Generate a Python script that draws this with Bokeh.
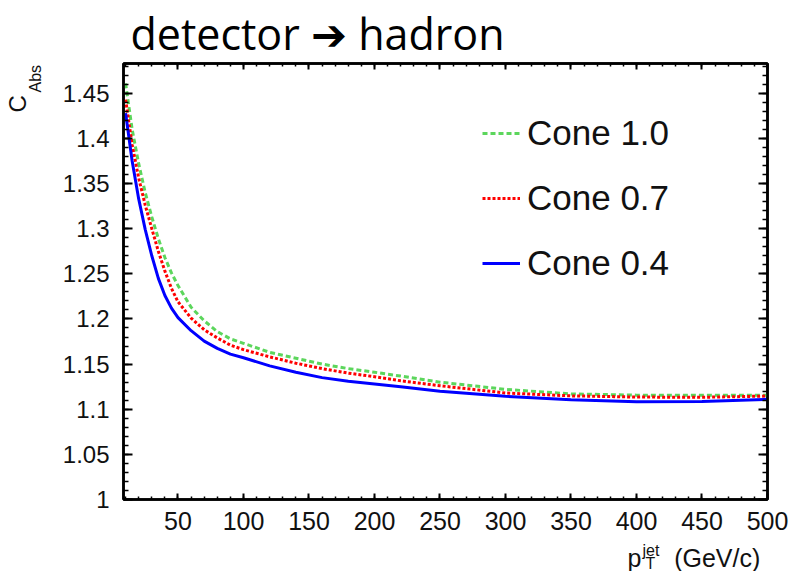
import numpy as np
from bokeh.plotting import figure
from bokeh.models import (Range1d, LinearAxis, Legend, LegendItem, Label,
                          FixedTicker, CustomJSTickFormatter)
from bokeh.embed import file_html
from bokeh.resources import INLINE

# ---------------- data ----------------
pt_jet = [10, 15, 20, 25, 30, 35, 40, 45, 50, 60, 70, 80, 90, 100, 120, 140,
          160, 180, 200, 220, 250, 300, 350, 400, 450, 500]
cone_04 = [1.428, 1.375, 1.333, 1.299, 1.270, 1.245, 1.226, 1.212, 1.2015,
           1.187, 1.1755, 1.1674, 1.161, 1.157, 1.148, 1.141, 1.135, 1.131,
           1.128, 1.1248, 1.120, 1.1143, 1.1105, 1.1082, 1.1085, 1.111]
cone_07 = [1.443, 1.393, 1.356, 1.326, 1.300, 1.275, 1.253, 1.234, 1.219,
           1.201, 1.188, 1.179, 1.171, 1.166, 1.158, 1.151, 1.145, 1.140,
           1.136, 1.1315, 1.126, 1.118, 1.1148, 1.1135, 1.1132, 1.1146]
cone_10 = [1.461, 1.410, 1.372, 1.340, 1.313, 1.289, 1.268, 1.251, 1.237,
           1.213, 1.198, 1.186, 1.178, 1.173, 1.163, 1.1565, 1.150, 1.145,
           1.141, 1.1367, 1.130, 1.122, 1.117, 1.1156, 1.1155, 1.1156]
series_labels = ["Cone 1.0", "Cone 0.7", "Cone 0.4"]

x_major = [50, 100, 150, 200, 250, 300, 350, 400, 450, 500]
x_minor = list(range(10, 501, 10))
y_major = [1.0, 1.05, 1.1, 1.15, 1.2, 1.25, 1.3, 1.35, 1.4, 1.45]
y_minor = [round(1.0 + 0.01 * i, 2) for i in range(0, 49)]

title_text = "detector \u2794 hadron"
NB = "\u00a0"

# ---------------- figure ----------------
FONT = "Liberation Sans"
p = figure(width=794, height=571, output_backend="svg", toolbar_location=None,
           x_range=Range1d(8.4, 500), y_range=Range1d(1.0, 1.483),
           min_border_left=123, min_border_right=25, min_border_top=63,
           min_border_bottom=72, background_fill_color="white",
           border_fill_color="white")
p.grid.visible = False
p.outline_line_color = "black"
p.outline_line_width = 2.5

fmt = CustomJSTickFormatter(code="""
let s = tick.toFixed(2);
s = s.replace(/0+$/, '').replace(/\\.$/, '');
return s;
""")

def style_axis(ax, ticks, minors, maj_len, min_len, show_labels, size):
    ax.ticker = FixedTicker(ticks=ticks, minor_ticks=minors)
    ax.major_tick_in = maj_len
    ax.major_tick_out = 0
    ax.minor_tick_in = min_len
    ax.minor_tick_out = 0
    ax.axis_line_width = 2.5
    ax.axis_line_color = "black"
    ax.major_tick_line_width = 2
    ax.minor_tick_line_width = 1.5
    ax.major_tick_line_color = "black"
    ax.minor_tick_line_color = "black"
    ax.major_label_text_font = FONT
    if show_labels:
        ax.major_label_text_color = "#111111"
        ax.major_label_text_font_size = size
    else:
        ax.major_label_text_color = None
        ax.major_label_text_font_size = "0px"
        ax.major_label_standoff = 0

style_axis(p.xaxis[0], x_major, x_minor, 6, 3, True, "25px")
p.xaxis[0].major_label_standoff = 12
style_axis(p.yaxis[0], y_major, y_minor, 9, 5, True, "24px")
p.yaxis[0].major_label_standoff = 14
p.yaxis[0].formatter = fmt

top = LinearAxis()
style_axis(top, x_major, x_minor, 6, 3, False, "0px")
p.add_layout(top, "above")
right = LinearAxis()
style_axis(right, y_major, y_minor, 9, 5, False, "0px")
p.add_layout(right, "right")

# ---------------- curves ----------------
r10 = p.line(pt_jet, cone_10, line_color="#5cd65c", line_width=3, line_dash="5 3")
r07 = p.line(pt_jet, cone_07, line_color="#ff0000", line_width=3, line_dash="3 2")
r04 = p.line(pt_jet, cone_04, line_color="#0000ff", line_width=3)

legend = Legend(items=[LegendItem(label=series_labels[0], renderers=[r10]),
                       LegendItem(label=series_labels[1], renderers=[r07]),
                       LegendItem(label=series_labels[2], renderers=[r04])],
                location=(359, 214), orientation="vertical",
                label_text_font=FONT, label_text_font_size="35px",
                label_text_color="#111111", label_standoff=7,
                glyph_width=38, glyph_height=44, label_height=44, spacing=21,
                padding=0, margin=0, border_line_color=None,
                background_fill_alpha=0)
p.add_layout(legend)

# ---------------- texts (side panels, so they are not clipped) ----------------
def lab(text, x, y, size, place, font=FONT, angle=0, color="#111111"):
    p.add_layout(Label(text=text, x=x, y=y, x_units="screen", y_units="screen",
                       text_font=font, text_font_size=size, text_color=color,
                       text_baseline="alphabetic", text_align="left",
                       angle=angle), place)

lab(title_text, 7, 30, "43px", "above", font="Open Sans", color="#000000")
lab("C", -15, 387, "24px", "left", angle=np.pi / 2)
lab("Abs", 20, 407, "16px", "left", angle=np.pi / 2)
lab("p" + NB * 4 + "\u2009" + "(GeV/c)", 504, 3, "25px", "below")
lab("T", -122, -64, "16px", "right")
lab("jet", -135, -51, "16px", "right")

open("out.html", "w").write(file_html(p, INLINE))
